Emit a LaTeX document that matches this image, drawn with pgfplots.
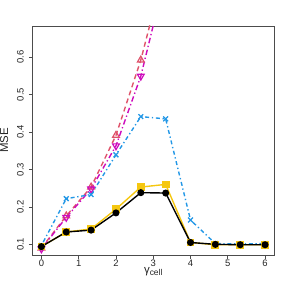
\documentclass[border=0pt]{standalone}
\usepackage{pgfplots}
\pgfplotsset{compat=1.18}
\usepackage{fontspec}
\setmainfont{Liberation Sans}
\definecolor{cred}{HTML}{DF536B}
\definecolor{cmag}{HTML}{CD0BBC}
\definecolor{cblue}{HTML}{2297E6}
\definecolor{cyel}{HTML}{F5C710}
\begin{document}
\begin{tikzpicture}
\useasboundingbox (-32.5bp,-33bp) rectangle (255.5bp,255.3bp);
\begin{axis}[
  at={(0,0)}, anchor=south west,
  scale only axis, width=241.8bp, height=229.3bp,
  xmin=-0.24, xmax=6.24, ymin=0.0715, ymax=0.683,
  axis line style={black!70, line width=0.6pt},
  xtick={0,1,2,3,4,5,6}, ytick={0.1,0.2,0.3,0.4,0.5,0.6},
  tick align=outside, major tick length=3.5bp,
  tick style={black!70, line width=0.6pt},
  xtick pos=bottom, ytick pos=left,
  /pgf/number format/assume math mode=true,
  /pgf/number format/fixed,
  ticklabel style={font=\fontsize{9.5}{11}\selectfont, text=black!85},
  yticklabel style={rotate=90, anchor=south, inner sep=0pt, yshift=5bp},
  xticklabel style={anchor=north, inner sep=0pt, yshift=-1bp},
  xlabel={γ\raisebox{-0.35ex}{\fontsize{8.5}{9}\selectfont cell}},
  ylabel={MSE},
  label style={font=\fontsize{11.5}{13}\selectfont, text=black!85},
  xlabel style={at={(axis description cs:0.5,0)}, anchor=north, yshift=-12.5bp, inner sep=0pt},
  ylabel style={at={(axis description cs:0,0.5)}, anchor=south, rotate=0, yshift=24bp, inner sep=0pt},
  clip=true,
]
\addplot[cred, line width=1.4pt, dash pattern=on 5bp off 3.5bp, mark=triangle, mark size=3.9bp, mark options={solid, line width=1.2pt}]
  coordinates {(0,0.090) (0.6667,0.176) (1.3333,0.253) (2,0.391) (2.6667,0.592) (3.3333,0.85) (4,1.1) (4.6667,1.3) (5.3333,1.5) (6,1.7)};
\addplot[cmag, line width=1.4pt, dash pattern=on 1.3bp off 2.7bp on 5.5bp off 2.7bp, mark=triangle, mark size=3.9bp, mark options={solid, rotate=180, line width=1.2pt}]
  coordinates {(0,0.088) (0.6667,0.172) (1.3333,0.248) (2,0.363) (2.6667,0.549) (3.3333,0.82) (4,1.05) (4.6667,1.25) (5.3333,1.45) (6,1.65)};
\addplot[cblue, line width=1.4pt, dash pattern=on 1.3bp off 2.7bp on 4bp off 2.7bp, mark=x, mark size=3.4bp, mark options={solid, line width=1.3pt}]
  coordinates {(0,0.097) (0.6667,0.222) (1.3333,0.233) (2,0.339) (2.6667,0.441) (3.3333,0.435) (4,0.165) (4.6667,0.102) (5.3333,0.101) (6,0.102)};
\addplot[cyel, line width=1.4pt, mark=square*, mark size=3.2bp, mark options={solid}]
  coordinates {(0,0.094) (0.6667,0.133) (1.3333,0.141) (2,0.194) (2.6667,0.253) (3.3333,0.260) (4,0.105) (4.6667,0.099) (5.3333,0.099) (6,0.099)};
\addplot[black, line width=1.4pt, mark=*, mark size=2.8bp, mark options={solid}]
  coordinates {(0,0.094) (0.6667,0.133) (1.3333,0.138) (2,0.184) (2.6667,0.238) (3.3333,0.237) (4,0.105) (4.6667,0.100) (5.3333,0.099) (6,0.099)};
\end{axis}
\end{tikzpicture}
\end{document}
